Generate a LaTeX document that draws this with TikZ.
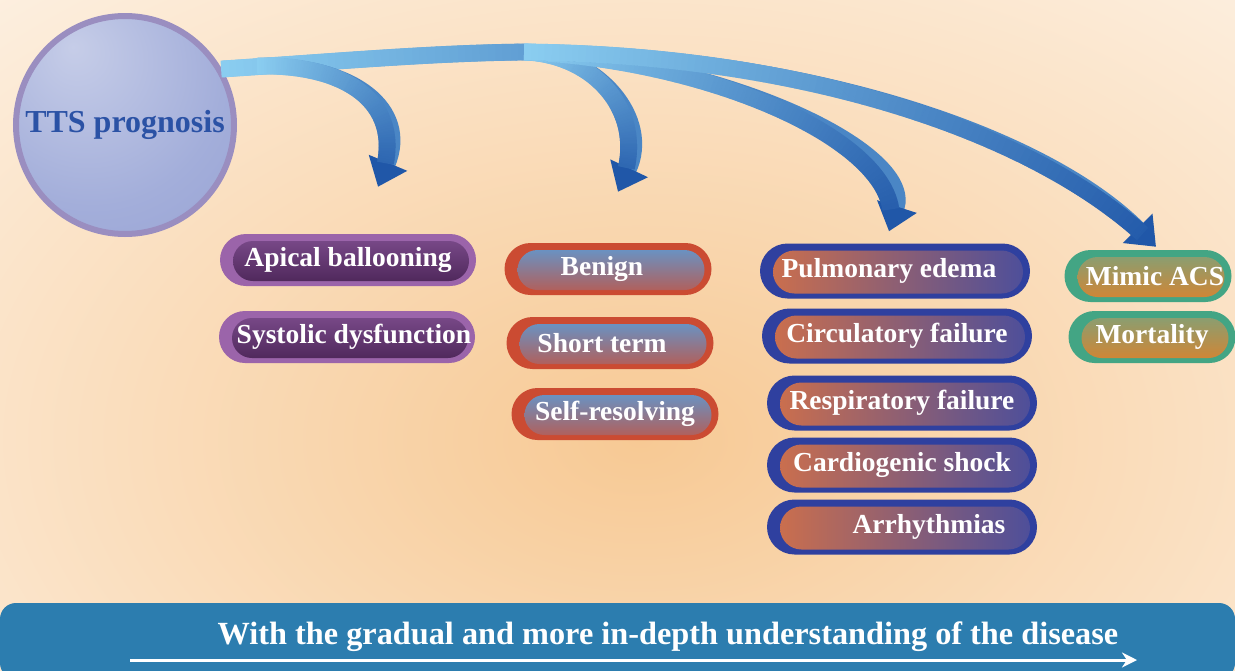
\documentclass[tikz,border=0pt]{standalone}
\usepackage{fontspec}
\setmainfont{Liberation Serif}
\usetikzlibrary{arrows.meta, decorations.markings}

\definecolor{peachglow}{HTML}{F7C994}
\definecolor{orblight}{HTML}{C6CDE8}
\definecolor{orbmid}{HTML}{A3AEDA}
\definecolor{orbdeep}{HTML}{8D97CE}
\definecolor{orbrim}{HTML}{9A8EC0}
\definecolor{orbtext}{HTML}{2B52A5}
\definecolor{flowlight}{HTML}{8ACDF0}
\definecolor{flowdark}{HTML}{2057A8}
\definecolor{pillpurple}{HTML}{9B64AA}
\definecolor{purpletop}{HTML}{7E4D8E}
\definecolor{purplebot}{HTML}{4B2557}
\definecolor{pillred}{HTML}{CB4B32}
\definecolor{redtop}{HTML}{5E9AD3}
\definecolor{redbot}{HTML}{B95A50}
\definecolor{pillblue}{HTML}{2F409F}
\definecolor{blueleft}{HTML}{D0704A}
\definecolor{blueright}{HTML}{4B4E9C}
\definecolor{pillgreen}{HTML}{43A584}
\definecolor{greentop}{HTML}{7FA27A}
\definecolor{greenbot}{HTML}{D8832F}
\definecolor{bannerblue}{HTML}{2C7DAF}

\pgfdeclareradialshading{orb}{\pgfpoint{-12bp}{18bp}}{color(0bp)=(orblight); color(30bp)=(orbmid); color(66bp)=(orbdeep); color(80bp)=(orbdeep)}

\def\flowreach{100}
\tikzset{
  orb/.style={circle, minimum size=218pt, inner sep=0pt, draw=orbrim, line width=6pt,
              shade, shading=orb, text=orbtext, font=\fontsize{32}{36}\selectfont\bfseries},
  % thick band that goes from light to dark blue along its length
  flowpath/.style={line width=16pt, draw=flowdark!60!flowlight,
    postaction={decorate, decoration={markings,
      mark=between positions 0 and #1 step 1.2pt with {%
        \pgfmathtruncatemacro\flowpct{min(100,\flowreach*(\pgfkeysvalueof{/pgf/decoration/mark info/distance from start}/\pgfdecoratedpathlength))}%
        \fill[flowdark!\flowpct!flowlight] (-0.9pt,-8.4pt) rectangle (0.9pt,8.4pt);}}}},
  flowpath/.default=1,
  flowreach/.store in=\flowreach,
  flowarrow/.style={flowpath=-26pt, -{Triangle[length=26pt,width=40pt,color=flowdark]}},
  pill/.style n args={3}{rectangle, rounded corners=#3, fill=#1, minimum height=2*#3, inner xsep=0pt,
    text=white, font=\fontsize{27.5}{30}\selectfont\bfseries,
    path picture={\shade[#2, rounded corners=#3-6pt]
      ([xshift=13pt, yshift=5pt]path picture bounding box.south west) rectangle
      ([xshift=-7pt, yshift=-7pt]path picture bounding box.north east);}},
  purplepill/.style={pill={pillpurple}{top color=purpletop, bottom color=purplebot}{26pt}, minimum width=256pt},
  redpill/.style={pill={pillred}{top color=redtop, bottom color=redbot}{26pt}, minimum width=207pt},
  bluepill/.style={pill={pillblue}{left color=blueleft, right color=blueright}{27.5pt}, minimum width=270pt},
  greenpill/.style={pill={pillgreen}{top color=greentop, bottom color=greenbot}{26pt}, minimum width=167pt},
  banner/.style={rectangle, rounded corners=16pt, fill=bannerblue, minimum width=1235pt, minimum height=76pt},
  trendlabel/.style={text=white, font=\fontsize{32.3}{36}\selectfont\bfseries},
  trendarrow/.style={white, line width=3pt, -{Stealth[length=15pt,width=15pt]}},
}

\begin{document}
\begin{tikzpicture}[x=1pt, y=-1pt]
  \useasboundingbox (0,0) rectangle (1235,670);
  % soft peach glow behind everything
  \fill[white] (0,0) rectangle (1235,670);
  \begin{scope}
    \clip (0,0) rectangle (1235,670);
    \shade[inner color=peachglow, outer color=white] (640,440) ellipse [x radius=1350, y radius=860];
  \end{scope}

  \coordinate (hub) at (525,52);
  \coordinate (forkA) at (258,66);

  \node[orb] (prog) at (125,125) {TTS prognosis};

  % first column
  \node[purplepill] (apical)   at (348,260) {Apical ballooning};
  \node[purplepill] (systolic) at (347,337) {\hspace*{14pt}Systolic dysfunction};
  % second column
  \node[redpill] (benign)  at (608,269) {Benign\hspace*{12pt}};
  \node[redpill] (short)   at (610,343) {Short term\hspace*{16pt}};
  \node[redpill] (selfres) at (615,414) {Self-resolving};
  % third column
  \node[bluepill] (edema)   at (895,271) {Pulmonary edema\hspace*{12pt}};
  \node[bluepill] (circ)    at (897,336) {Circulatory failure};
  \node[bluepill] (resp)    at (902,403) {Respiratory failure};
  \node[bluepill] (shock)   at (902,465) {Cardiogenic shock};
  \node[bluepill] (arrhyth) at (902,527) {\hspace*{54pt}Arrhythmias};
  % fourth column
  \node[greenpill] (acs)  at (1148,276) {\hspace*{14pt}Mimic ACS};
  \node[greenpill] (mort) at (1152,337) {Mortality};

  % curved flows out of the circle
  \draw[flowpath, flowreach=40] (prog.30) .. controls (330,62) and (430,53) .. (hub);
  \draw[flowarrow] (forkA) .. controls (355,64) and (410,110) .. ([xshift=30pt,yshift=47pt]apical.north);
  \draw[flowarrow] (hub) .. controls (600,55) and (652,120) .. ([xshift=10pt,yshift=51pt]benign.north);
  \draw[flowarrow] (hub) .. controls (720,60) and (915,150) .. ([xshift=-6pt,yshift=12pt]edema.north);
  \draw[flowarrow] (hub) .. controls (820,55) and (1050,140) .. ([xshift=8pt,yshift=3pt]acs.north);

  % time line at the bottom
  \node[banner] (trend) at (617.5,641) {};
  \node[trendlabel] (trendtext) at (668,637) {With the gradual and more in-depth understanding of the disease};
  \coordinate (trendstart) at (130,660);
  \coordinate (trendend) at (1137,660);
  \draw[trendarrow] (trendstart) -- (trendend);
\end{tikzpicture}
\end{document}
